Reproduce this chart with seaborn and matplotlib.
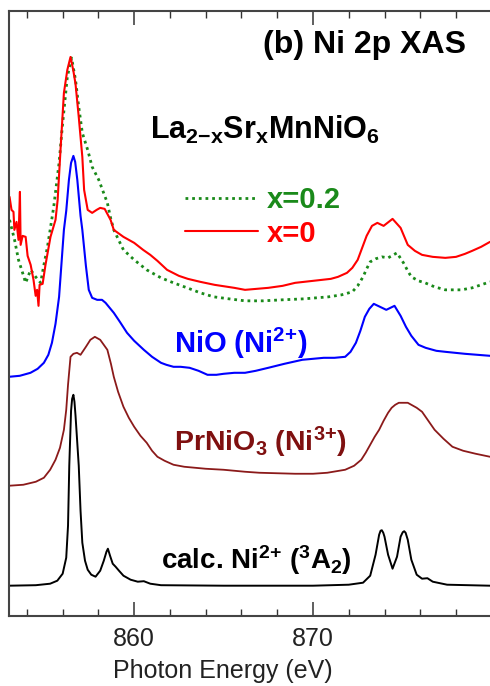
import matplotlib
matplotlib.use("Agg")
import matplotlib.pyplot as plt
import seaborn as sns
from matplotlib.ticker import MultipleLocator

# Ni 2p XAS spectra, stacked with offsets (arb. units), energies in eV

# calc. Ni2+ (3A2)
calc_e = [853.0, 854.5, 855.3, 855.7, 856.0, 856.2, 856.3, 856.37, 856.47, 856.53,
          856.6, 856.66, 856.72, 856.9, 857.0, 857.1, 857.25, 857.4, 857.6, 857.84,
          858.1, 858.3, 858.45, 858.53, 858.65, 858.8, 858.96, 859.15, 859.4, 859.8,
          860.2, 860.54, 860.9, 861.5, 865.0, 870.0, 872.0, 872.8, 873.2, 873.5,
          873.7, 873.78, 873.85, 873.93, 874.0, 874.2, 874.45, 874.7, 874.9, 875.02,
          875.1, 875.18, 875.3, 875.5, 875.8, 876.1, 876.4, 876.7, 877.5, 879.9]
calc_i = [30, 30.5, 32, 35, 42, 58, 90, 150, 205, 217,
          221, 214, 200, 150, 105, 73, 55, 46, 41, 39,
          45, 55, 64, 67, 60, 52, 49, 45, 40, 36,
          34, 34.5, 32, 30.5, 30, 30, 31, 33, 40, 61,
          81, 85, 85.5, 83, 79, 61, 47, 59, 79, 83.5,
          84.5, 83, 76, 56, 41, 37, 37.5, 34, 31, 30]

# PrNiO3 (Ni3+)
prnio_e = [853.0, 853.8, 854.5, 854.95, 855.3, 855.6, 855.85, 856.07, 856.2, 856.3,
           856.44, 856.6, 856.8, 857.0, 857.3, 857.55, 857.8, 858.1, 858.5, 858.7,
           858.86, 859.1, 859.4, 859.7, 860.0, 860.35, 860.7, 861.0, 861.3, 861.7,
           862.2, 862.8, 864.0, 865.0, 866.2, 867.0, 868.0, 869.0, 870.0, 870.8,
           871.8, 872.3, 872.7, 872.95, 873.2, 873.45, 873.7, 873.95, 874.2, 874.4,
           874.6, 874.8, 875.06, 875.3, 875.5, 875.8, 876.1, 876.45, 876.8, 877.3,
           877.8, 878.4, 879.1, 879.9]
prnio_i = [130, 131, 134, 138, 146, 156, 168, 186, 206, 231,
           259, 262, 263, 261, 269, 276, 279, 276, 266, 252,
           239, 224, 209, 198, 189, 180, 173, 165, 159, 155,
           151, 149, 147, 146, 144, 143, 142.5, 142, 142, 143,
           146, 150, 156, 163, 171, 179, 186, 195, 203, 208,
           211, 213, 213, 213, 211, 208, 204, 195, 186, 177,
           169, 165, 162, 159]

# NiO (Ni2+)
nio_e = [853.0, 853.6, 854.2, 854.6, 854.95, 855.2, 855.4, 855.6, 855.8, 856.07,
         856.2, 856.35, 856.47, 856.6, 856.7, 856.82, 857.0, 857.1, 857.3, 857.46,
         857.65, 857.93, 858.2, 858.4, 858.86, 859.2, 859.6, 860.0, 860.54, 861.0,
         861.5, 861.8, 862.2, 862.6, 863.1, 863.6, 864.1, 864.6, 865.0, 865.6,
         866.2, 866.8, 867.5, 868.4, 869.4, 870.0, 870.6, 871.2, 871.8, 872.1,
         872.4, 872.65, 872.9, 873.15, 873.4, 873.75, 874.1, 874.56, 874.9, 875.2,
         875.5, 875.9, 876.3, 876.9, 877.4, 878.5, 879.9]
nio_i = [239, 240, 243, 247, 253, 261, 273, 292, 319, 386,
         405, 436, 453, 460, 454, 436, 400, 386, 350, 326,
         318, 316, 316, 313, 303, 294, 283, 275, 266, 259,
         253, 251, 249, 249, 248, 245, 241, 241, 242, 243,
         243, 245, 248, 252, 256, 257, 258, 258, 259, 264,
         273, 285, 299, 307, 312, 309, 306, 310, 300, 289,
         280, 271, 268, 265, 264, 262, 260]

# La2-xSrxMnNiO6, x=0
x0_e = [853.03, 853.14, 853.25, 853.3, 853.42, 853.53, 853.61, 853.65, 853.76, 853.93,
        854.04, 854.21, 854.37, 854.49, 854.57, 854.65, 854.71, 854.88, 855.04, 855.32,
        855.6, 855.72, 855.88, 856.07, 856.26, 856.44, 856.6, 856.72, 856.9, 857.1,
        857.2, 857.4, 857.65, 857.9, 858.1, 858.35, 858.68, 858.86, 859.4, 860.0,
        860.5, 860.9, 861.3, 861.84, 862.5, 863.0, 863.7, 864.5, 865.6, 866.2,
        867.5, 868.3, 869.0, 870.0, 871.0, 871.4, 871.9, 872.2, 872.5, 872.75,
        873.0, 873.3, 873.6, 873.95, 874.45, 874.9, 875.3, 875.7, 876.1, 876.7,
        877.4, 878.0, 878.5, 878.9, 879.4, 879.9]
x0_i = [419, 406, 404, 386, 394, 376, 424, 371, 380, 379,
        360, 351, 336, 320, 326, 310, 331, 332, 351, 379,
        396, 416, 466, 523, 546, 559, 545, 532, 499, 459,
        426, 406, 403, 406, 408, 407, 396, 386, 379, 373,
        366, 361, 355, 346, 340, 337, 334, 331, 328, 326,
        328, 330, 333, 335, 337, 339, 343, 348, 356, 368,
        380, 390, 393, 390, 397, 388, 371, 365, 361, 359,
        358, 359, 362, 365, 369, 374]

# La2-xSrxMnNiO6, x=0.2
x02_e = [853.03, 853.31, 853.53, 853.76, 853.93, 854.21, 854.49, 854.77, 854.93, 855.15,
         855.3, 855.5, 855.8, 855.98, 856.26, 856.5, 856.72, 856.9, 857.1, 857.4,
         857.65, 858.02, 858.5, 858.68, 858.86, 859.1, 859.4, 859.7, 860.0, 860.35,
         860.7, 861.1, 861.5, 862.2, 862.96, 863.7, 864.45, 865.3, 866.2, 867.2,
         868.27, 869.5, 870.87, 871.6, 872.2, 872.5, 872.8, 873.0, 873.2, 873.5,
         873.85, 874.2, 874.7, 875.06, 875.3, 875.5, 875.9, 876.27, 876.8, 877.4,
         878.3, 878.9, 879.4, 879.9]
x02_i = [396, 376, 356, 343, 333, 346, 339, 333, 349, 369,
         386, 409, 453, 489, 539, 558, 536, 509, 483, 466,
         449, 436, 413, 398, 386, 377, 366, 361, 356, 351,
         346, 342, 338, 333, 328, 323, 319, 317, 315, 315,
         316, 317, 319, 321, 324, 330, 339, 347, 354, 357,
         359, 358, 363, 353, 345, 339, 335, 333, 329, 326,
         326, 328, 331, 334]

sns.set_theme(style="white")
plt.rcParams['font.family'] = ['Liberation Sans', 'DejaVu Sans']
plt.rcParams['mathtext.fontset'] = 'custom'
plt.rcParams['mathtext.rm'] = 'Liberation Sans:bold'
plt.rcParams['mathtext.bf'] = 'Liberation Sans:bold'
plt.rcParams['mathtext.it'] = 'Liberation Sans:bold'
plt.rcParams['mathtext.default'] = 'bf'

fig = plt.figure(figsize=(4.9, 6.86), dpi=100)
ax = fig.add_axes([0.0184, 0.1025, 0.9816, 0.8815])

sns.lineplot(x=calc_e, y=calc_i, ax=ax, color='black', lw=1.4)
sns.lineplot(x=prnio_e, y=prnio_i, ax=ax, color='#8b1a1a', lw=1.3)
sns.lineplot(x=nio_e, y=nio_i, ax=ax, color='#0000ff', lw=1.5)
sns.lineplot(x=x02_e, y=x02_i, ax=ax, color='#1a8a1a', lw=2.0, linestyle=(0, (1, 1.4)))
green_line = ax.lines[-1]
sns.lineplot(x=x0_e, y=x0_i, ax=ax, color='#ff0000', lw=1.5)
red_line = ax.lines[-1]

ax.set_xlim(853.0, 879.9)
ax.set_ylim(0, 605)

# legend for the two samples
ax.legend([green_line, red_line], ['x=0.2', 'x=0'], loc='upper left',
          bbox_to_anchor=(0.366, 0.711), frameon=False, labelcolor='linecolor',
          prop={'weight': 'bold', 'size': 21}, handlelength=2.5,
          handletextpad=0.3, labelspacing=0.2, borderpad=0, borderaxespad=0)

ax.text(872.9, 571, '(b) Ni 2p XAS', fontsize=23, fontweight='bold',
        ha='center', va='center', color='black')
ax.text(867.3, 486, r'La$_{2{-}x}$Sr$_x$MnNiO$_6$', fontsize=22, fontweight='bold',
        ha='center', va='center', color='black')
ax.text(865.94, 272, r'NiO (Ni$^{2{+}}$)', fontsize=21, fontweight='bold',
        ha='center', va='center', color='#0000ff')
ax.text(867.06, 173, r'PrNiO$_3$ (Ni$^{3{+}}$)', fontsize=20.5, fontweight='bold',
        ha='center', va='center', color='#7f1010')
ax.text(866.85, 56, r'calc. Ni$^{2{+}}$ ($^3$A$_2$)', fontsize=20, fontweight='bold',
        ha='center', va='center', color='black')

ax.xaxis.set_major_locator(MultipleLocator(10))
ax.xaxis.set_minor_locator(MultipleLocator(2))
ax.tick_params(axis='x', which='both', direction='in', top=True, bottom=True,
               labelsize=18, pad=8, labelcolor='#222222', color='#333333')
ax.tick_params(axis='x', which='major', length=10, width=1.1)
ax.tick_params(axis='x', which='minor', length=5, width=1.0)
ax.set_yticks([])

for side in ['left', 'top', 'bottom']:
    ax.spines[side].set_color('#444444')
    ax.spines[side].set_linewidth(1.5)
ax.spines['right'].set_visible(False)

ax.set_xlabel('Photon Energy (eV)', fontsize=18, color='#222222', x=0.444, labelpad=6)
ax.set_ylabel('')

fig.savefig('out.png', dpi=100)
